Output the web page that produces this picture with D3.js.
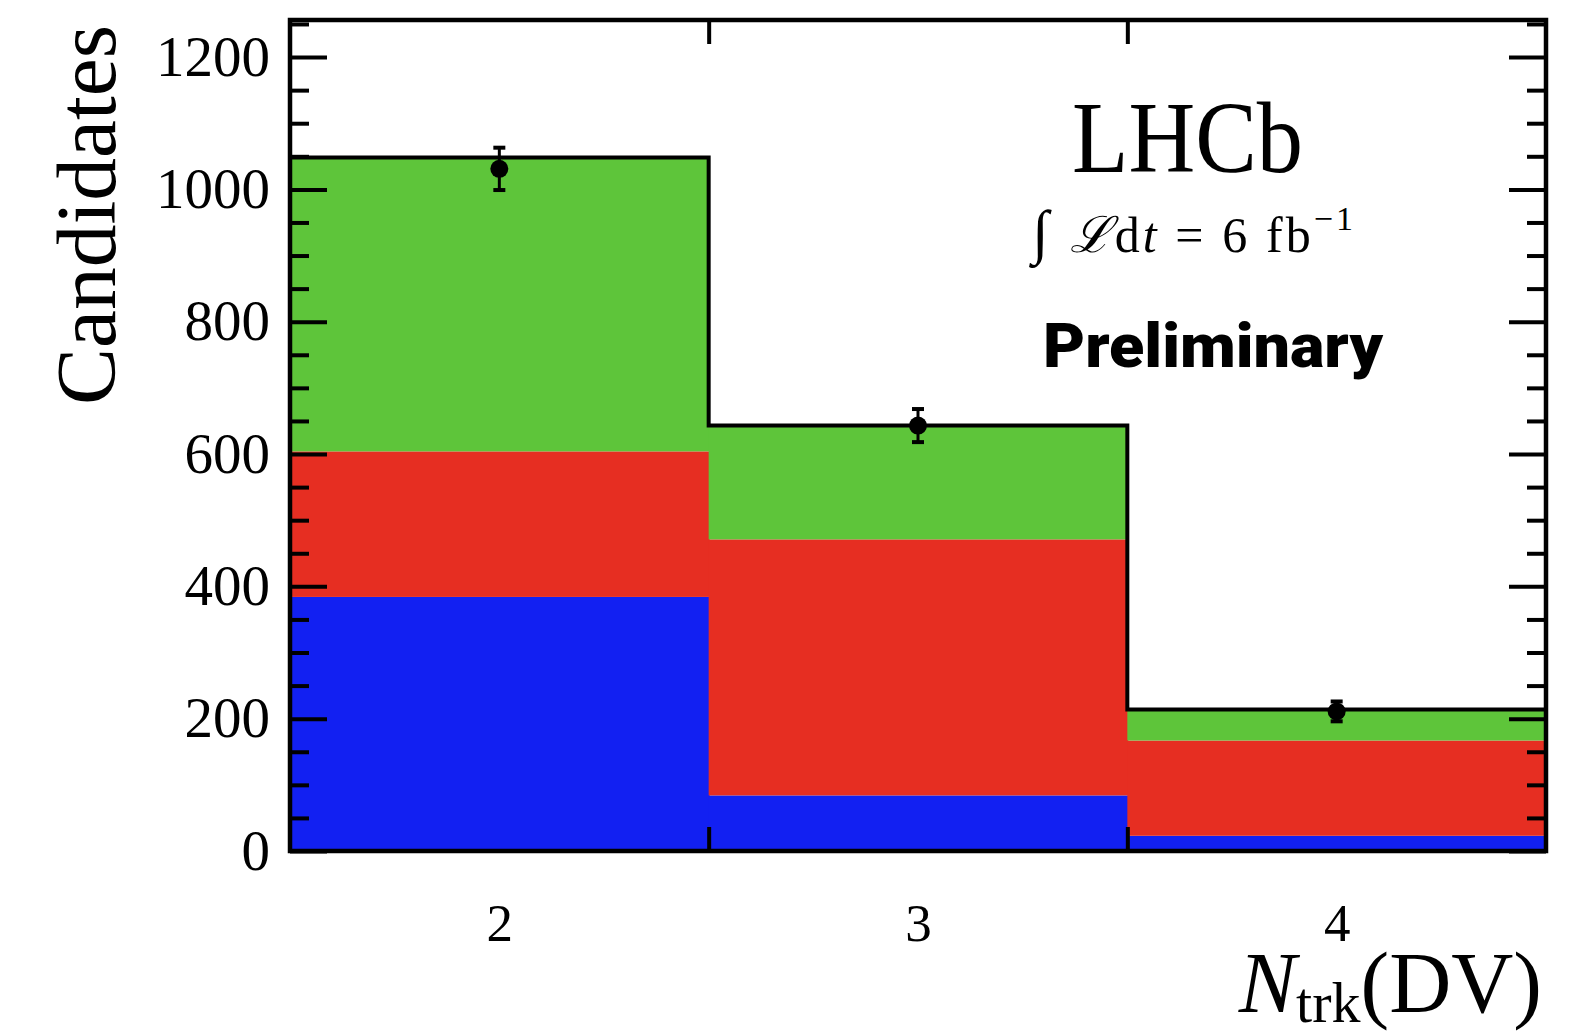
<!DOCTYPE html>
<html>
<head>
<meta charset="utf-8">
<script src="https://cdn.jsdelivr.net/npm/d3@7"></script>
<style>
  body { margin: 0; background: #fff; }
  svg { display: block; }
</style>
</head>
<body>
<div id="chart"></div>
<script>
// Data
var nTrk = [2, 3, 4];
var blueCounts = [384, 84, 23];
var redCounts = [220, 387, 144];
var greenCounts = [444, 172, 47];
var dataCounts = [1031, 643, 211];
var dataErrors = [32, 25, 15];
var yMajorTicks = [0, 200, 400, 600, 800, 1000, 1200];
var xEdgeTicks = [2.5, 3.5];

var width = 1573,
    height = 1031;

var plotLeft = 290, plotRight = 1546, plotTop = 20, plotBottom = 851;

var svg = d3.select("#chart")
            .append("svg")
            .attr("width", width)
            .attr("height", height);

var x = d3.scaleLinear().domain([1.5, 4.5]).range([plotLeft, plotRight]);
var y = d3.scaleLinear().domain([0, 1256]).range([plotBottom, plotTop]);

var colors = {blue: "#1220f2", red: "#e62e22", green: "#5ec53a"};

var rows = nTrk.map(function (n, i) {
    return {n: n, blue: blueCounts[i], red: redCounts[i], green: greenCounts[i]};
});
var stack = d3.stack().keys(["blue", "red", "green"]);
var layers = stack(rows);

// stacked fills
svg.append("g").selectAll("g")
    .data(layers)
    .enter()
    .append("g")
    .attr("fill", d => colors[d.key])
    .selectAll("rect")
    .data(d => d)
    .enter()
    .append("rect")
    .attr("x", d => x(d.data.n - 0.5))
    .attr("width", d => x(d.data.n + 0.5) - x(d.data.n - 0.5) + 1)
    .attr("y", d => y(d[1]))
    .attr("height", d => y(d[0]) - y(d[1]));

// total outline (step)
var totals = rows.map(r => r.blue + r.red + r.green);
var stepPts = [];
rows.forEach(function (r, i) {
    stepPts.push([r.n - 0.5, totals[i]]);
    stepPts.push([r.n + 0.5, totals[i]]);
});
svg.append("path")
    .datum(stepPts)
    .attr("fill", "none")
    .attr("stroke", "#000")
    .attr("stroke-width", 4)
    .attr("d", d3.line().x(d => x(d[0])).y(d => y(d[1])));

// data points with error bars
var pts = svg.append("g").selectAll("g")
    .data(nTrk.map((n, i) => ({n: n, v: dataCounts[i], e: dataErrors[i]})))
    .enter()
    .append("g");
pts.append("line")
    .attr("x1", d => x(d.n)).attr("x2", d => x(d.n))
    .attr("y1", d => y(d.v + d.e)).attr("y2", d => y(d.v - d.e))
    .attr("stroke", "#000").attr("stroke-width", 3);
pts.selectAll(".cap")
    .data(d => [d.v + d.e, d.v - d.e].map(v => ({n: d.n, v: v})))
    .enter()
    .append("line")
    .attr("x1", d => x(d.n) - 6).attr("x2", d => x(d.n) + 6)
    .attr("y1", d => y(d.v)).attr("y2", d => y(d.v))
    .attr("stroke", "#000").attr("stroke-width", 4);
pts.append("circle")
    .attr("cx", d => x(d.n))
    .attr("cy", d => y(d.v))
    .attr("r", 9)
    .attr("fill", "#000");

// axes
var minorTicks = d3.range(0, 1251, 50).filter(v => v % 200 !== 0);

function styleAxis(g, w) {
    g.select(".domain").remove();
    g.selectAll(".tick line").attr("stroke", "#000").attr("stroke-width", w);
}

svg.append("g")
    .attr("transform", "translate(" + plotLeft + ",0)")
    .call(d3.axisLeft(y).tickValues(yMajorTicks).tickSize(-37).tickPadding(20).tickFormat(d3.format("d")))
    .call(g => styleAxis(g, 4))
    .selectAll("text")
    .attr("font-family", "Liberation Serif, serif")
    .attr("font-size", 57)
    .attr("fill", "#000");

svg.append("g")
    .attr("transform", "translate(" + plotLeft + ",0)")
    .call(d3.axisLeft(y).tickValues(minorTicks).tickSize(-19).tickFormat(""))
    .call(g => styleAxis(g, 4));

svg.append("g")
    .attr("transform", "translate(" + plotRight + ",0)")
    .call(d3.axisRight(y).tickValues(yMajorTicks).tickSize(-37).tickFormat(""))
    .call(g => styleAxis(g, 4));

svg.append("g")
    .attr("transform", "translate(" + plotRight + ",0)")
    .call(d3.axisRight(y).tickValues(minorTicks).tickSize(-19).tickFormat(""))
    .call(g => styleAxis(g, 4));

svg.append("g")
    .attr("transform", "translate(0," + plotBottom + ")")
    .call(d3.axisBottom(x).tickValues(nTrk).tickSize(0).tickPadding(52).tickFormat(d3.format("d")))
    .call(g => styleAxis(g, 0))
    .selectAll("text")
    .attr("font-family", "Liberation Serif, serif")
    .attr("font-size", 53)
    .attr("fill", "#000");

svg.append("g")
    .attr("transform", "translate(0," + plotBottom + ")")
    .call(d3.axisBottom(x).tickValues(xEdgeTicks).tickSize(-24).tickFormat(""))
    .call(g => styleAxis(g, 4));

svg.append("g")
    .attr("transform", "translate(0," + plotTop + ")")
    .call(d3.axisTop(x).tickValues(xEdgeTicks).tickSize(-24).tickFormat(""))
    .call(g => styleAxis(g, 4));

// frame
svg.append("rect")
    .attr("x", plotLeft).attr("y", plotTop)
    .attr("width", plotRight - plotLeft).attr("height", plotBottom - plotTop)
    .attr("fill", "none")
    .attr("stroke", "#000")
    .attr("stroke-width", 4.5);

// axis titles
svg.append("text")
    .attr("transform", "translate(115,215) rotate(-90)")
    .attr("text-anchor", "middle")
    .attr("font-family", "Liberation Serif, serif")
    .attr("font-size", 85)
    .attr("textLength", 380)
    .attr("lengthAdjust", "spacingAndGlyphs")
    .text("Candidates");

var xt = svg.append("text")
    .attr("x", 1542)
    .attr("y", 1012)
    .attr("text-anchor", "end")
    .attr("font-family", "Liberation Serif, serif")
    .attr("font-size", 86);
xt.append("tspan").attr("font-style", "italic").text("N");
xt.append("tspan").attr("font-size", 58).attr("dy", 10).text("trk");
xt.append("tspan").attr("dy", -10).text("(DV)");

// labels
svg.append("text")
    .attr("x", 1072).attr("y", 172)
    .attr("font-family", "Liberation Serif, serif")
    .attr("font-size", 101)
    .attr("textLength", 231)
    .attr("lengthAdjust", "spacingAndGlyphs")
    .text("LHCb");

var lumi = svg.append("text")
    .attr("x", 1032).attr("y", 252)
    .attr("font-family", "Liberation Serif, serif")
    .attr("font-size", 50)
    .attr("textLength", 321)
    .attr("lengthAdjust", "spacing");
lumi.append("tspan").attr("font-size", 60).text("\u222B ");
lumi.append("tspan").attr("font-style", "italic").text("\u2112");
lumi.append("tspan").text("d");
lumi.append("tspan").attr("font-style", "italic").text("t");
lumi.append("tspan").text(" = 6 fb");
lumi.append("tspan").attr("font-size", 34).attr("dy", -22).text("\u22121");

svg.append("text")
    .attr("x", 1043).attr("y", 367)
    .attr("font-family", "Roboto, Inter, Liberation Sans, sans-serif")
    .attr("font-weight", 900)
    .attr("font-size", 62)
    .attr("textLength", 340)
    .attr("lengthAdjust", "spacingAndGlyphs")
    .text("Preliminary");
</script>
</body>
</html>
